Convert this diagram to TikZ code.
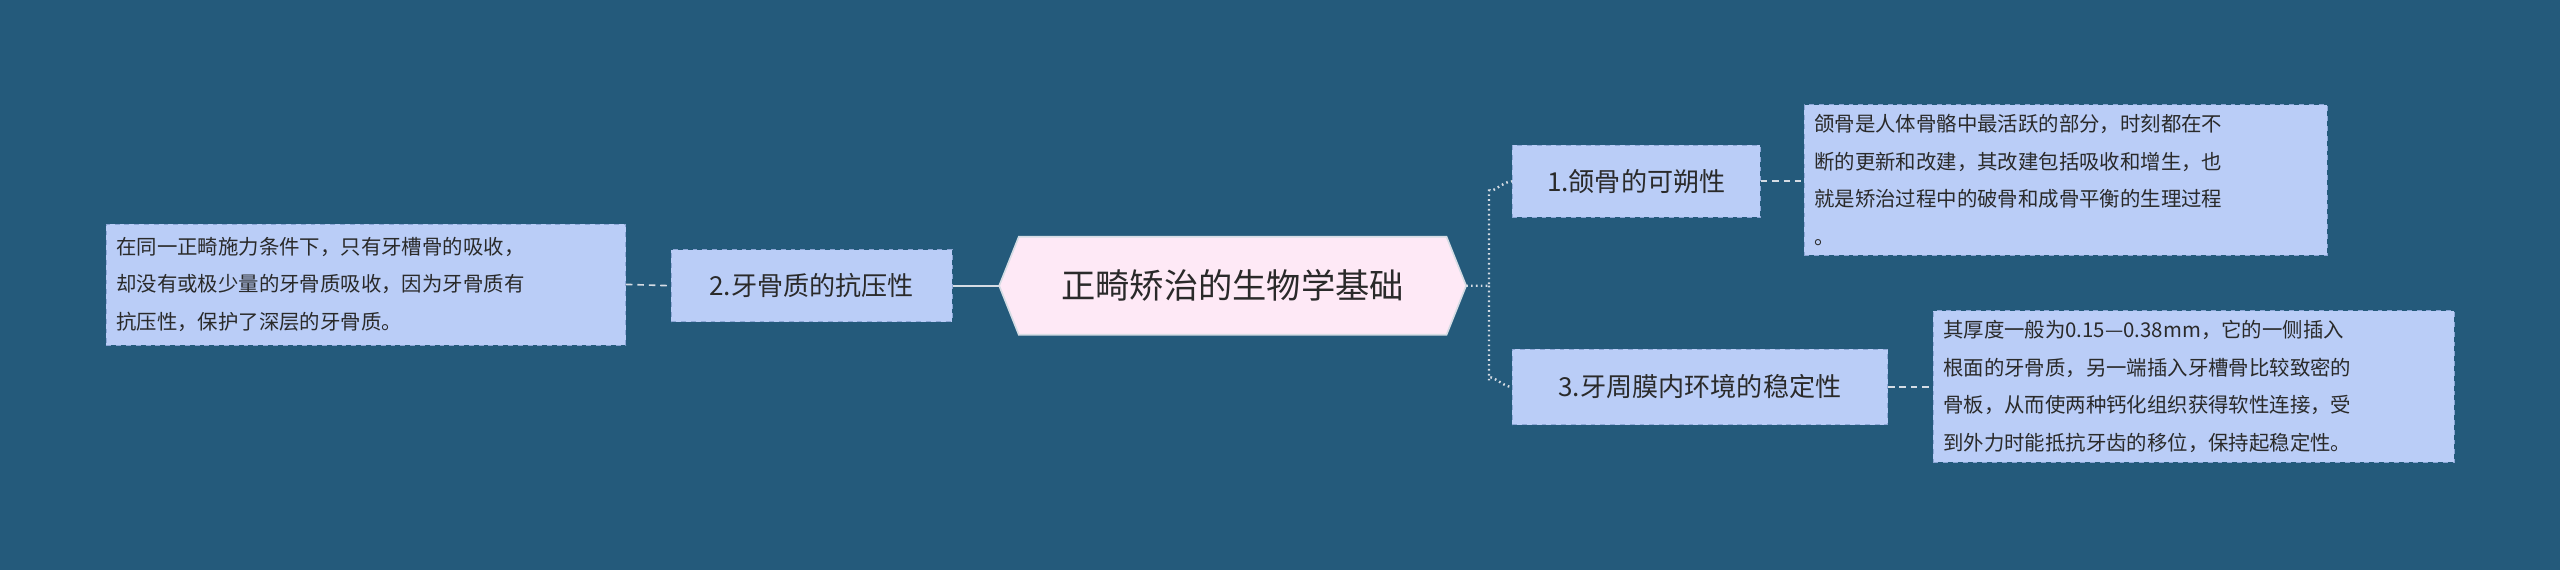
\documentclass[tikz,border=0pt]{standalone}
\usepackage{fontspec}
\setmainfont{Noto Sans CJK SC}
\begin{document}
\begin{tikzpicture}[x=1pt,y=-1pt,
  bg/.style={fill=bgc},
  topic/.style={draw=boxb,dashed,fill=boxf,font=\fontsize{16}{20}\selectfont,text=txt,inner sep=0pt,minimum height=44pt,anchor=west},
  detail/.style={draw=boxb,dashed,fill=boxf,font=\fontsize{12.5}{23}\selectfont,text=txt,inner sep=0pt,align=left,anchor=north west},
  link/.style={draw=lnc,line width=1pt},
  dlink/.style={draw=lnc,line width=1pt,dash pattern=on 4pt off 3pt}]
\definecolor{bgc}{HTML}{245A7B}
\definecolor{boxf}{HTML}{BACDF7}
\definecolor{boxb}{HTML}{8CA6D6}
\definecolor{txt}{HTML}{2A2A2A}
\definecolor{lnc}{HTML}{D5DCE4}
\definecolor{cf}{HTML}{FEE9F6}
\fill[bgc] (0,0) rectangle (1568,349);
\useasboundingbox (0,0) rectangle (1568,349);
% center
\node[font=\fontsize{21}{24}\selectfont,text=txt,minimum width=270pt,minimum height=60pt,inner sep=0pt] (c) at (755,175) {};
\fill[cf,draw=lnc,line width=1pt] (612,175) -- (624,145) -- (886,145) -- (898,175) -- (886,205) -- (624,205) -- cycle;
\node[font=\fontsize{21}{24}\selectfont,text=txt] (ct) at (755,175) {正畸矫治的生物学基础};
% topics
\node[topic,minimum width=172pt] (t2) at (411,175) {2.牙骨质的抗压性};
\node[topic,minimum width=152pt] (t1) at (926,111) {1.颌骨的可朔性};
\node[topic,minimum width=230pt,minimum height=46pt] (t3) at (926,237) {3.牙周膜内环境的稳定性};
% details
\node[detail,minimum width=318pt,minimum height=74pt,text width=306pt,inner xsep=6pt,inner ysep=3pt] (d2) at (65,137) {在同一正畸施力条件下，只有牙槽骨的吸收，\\却没有或极少量的牙骨质吸收，因为牙骨质有\\抗压性，保护了深层的牙骨质。};
\node[detail,minimum width=320pt,minimum height=92pt,text width=308pt,inner xsep=6pt,inner ysep=2pt] (d1) at (1105,64) {颌骨是人体骨骼中最活跃的部分，时刻都在不\\断的更新和改建，其改建包括吸收和增生，也\\就是矫治过程中的破骨和成骨平衡的生理过程\\。};
\node[detail,minimum width=319pt,minimum height=93pt,text width=307pt,inner xsep=6pt,inner ysep=2pt] (d3) at (1184,190) {其厚度一般为0.15—0.38mm，它的一侧插入\\根面的牙骨质，另一端插入牙槽骨比较致密的\\骨板，从而使两种钙化组织获得软性连接，受\\到外力时能抵抗牙齿的移位，保持起稳定性。};
% connectors
\draw[link] (t2.east) -- (612,175);
\draw[dlink] (d2.east) -- (t2.west);
\draw[link,dotted,line width=1.5pt] (898,175) -- (912,175) -- (912,115) to[out=-90,in=180] (t1.west);
\draw[link,dotted,line width=1.5pt] (912,175) -- (912,233) to[out=90,in=180] (t3.west);
\draw[dlink] (t1.east) -- (d1.west |- t1.east);
\draw[dlink] (t3.east) -- (d3.west |- t3.east);
\end{tikzpicture}
\end{document}
